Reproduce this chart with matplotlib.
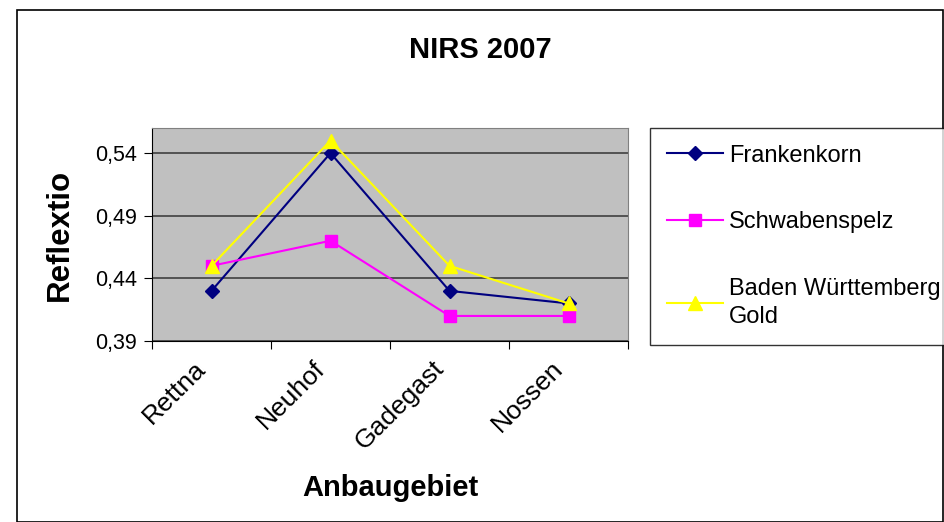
import matplotlib.pyplot as plt
from matplotlib.patches import Rectangle
from matplotlib.transforms import ScaledTranslation

plt.rcParams['font.family'] = ['Liberation Sans', 'DejaVu Sans']

# data
sites = ["Rettna", "Neuhof", "Gadegast", "Nossen"]
frankenkorn = [0.43, 0.54, 0.43, 0.42]
schwabenspelz = [0.45, 0.47, 0.41, 0.41]
baden_gold = [0.45, 0.55, 0.45, 0.42]
y_ticks = [0.39, 0.44, 0.49, 0.54]

fig = plt.figure(figsize=(9.44, 5.22), dpi=100)
ax = fig.add_axes([152 / 944, 1 - 341 / 522, (628 - 152) / 944, (341 - 128) / 522])

# outer chart border
fig.patches.append(Rectangle((17 / 944, 0.0), 1 - 18 / 944, 1 - 10 / 522, transform=fig.transFigure,
                             fill=False, edgecolor="black", linewidth=1.2))

ax.set_facecolor("#C0C0C0")
x = list(range(len(sites)))
ax.plot(x, frankenkorn, color="#000080", marker="D", markersize=7, linewidth=1.5, label="Frankenkorn")
ax.plot(x, schwabenspelz, color="#FF00FF", marker="s", markersize=8, linewidth=1.5, label="Schwabenspelz")
ax.plot(x, baden_gold, color="#FFFF00", marker="^", markersize=10, linewidth=1.5,
        label="Baden Württemberg\nGold")

ax.set_xlim(-0.5, len(sites) - 0.5)
ax.set_ylim(0.39, 0.56)
ax.set_yticks(y_ticks)
ax.set_yticklabels([f"{v:.2f}".replace(".", ",") for v in y_ticks], fontsize=15.5)
ax.yaxis.grid(True, color="#404040", linewidth=1.2)
ax.set_axisbelow(True)

# category ticks sit between categories, labels at centres
ax.set_xticks([i - 0.5 for i in range(len(sites) + 1)])
ax.set_xticklabels([])
ax.set_xticks(x, minor=True)
ax.set_xticklabels(sites, minor=True, rotation=45, ha="right", rotation_mode="anchor", fontsize=19)
ax.tick_params(axis="x", which="minor", length=0, pad=8)
ax.tick_params(axis="x", which="major", length=6, direction="out")
ax.tick_params(axis="y", length=6, direction="out", pad=5)
shift = ScaledTranslation(-0.18, -0.04, fig.dpi_scale_trans)
for lbl in ax.get_xticklabels(minor=True):
    lbl.set_transform(lbl.get_transform() + shift)

for side in ["left", "bottom"]:
    ax.spines[side].set_color("black")
for side in ["top", "right"]:
    ax.spines[side].set_color("#808080")

ax.set_ylabel("Reflextio", fontsize=22.5, fontweight="bold", labelpad=14)
ax.set_xlabel("Anbaugebiet", fontsize=21, fontweight="bold", labelpad=14)
fig.text(480 / 944, 1 - 50 / 522, "NIRS 2007", fontsize=21, fontweight="bold", ha="center", va="center")

leg = fig.legend(loc="upper left", bbox_to_anchor=(650 / 944, 1 - 128 / 522), fontsize=17,
                 frameon=True, fancybox=False, edgecolor="black", labelspacing=1.9,
                 handlelength=2.4, borderpad=0.7, handletextpad=0.25, borderaxespad=0)
leg.get_frame().set_linewidth(1.0)
leg.get_texts()[2].set_linespacing(1.35)

fig.savefig("out.png", dpi=100)
